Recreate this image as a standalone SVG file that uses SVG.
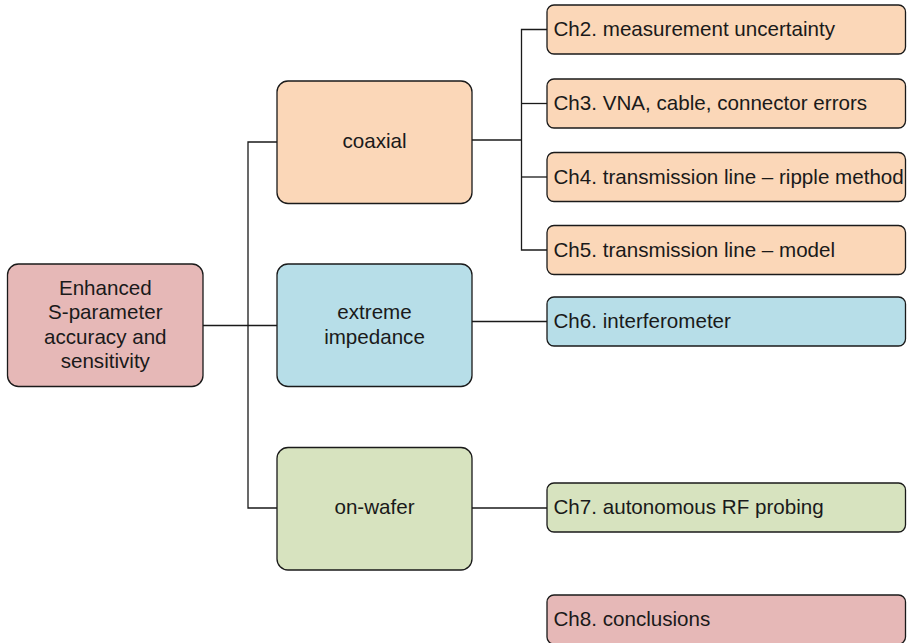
<svg xmlns="http://www.w3.org/2000/svg" width="907" height="643" viewBox="0 0 907 643">
  <style>
    .box { stroke: #1a1a1a; stroke-width: 1.3; }
    .root { fill: #E6B8B7; }
    .coax { fill: #FBD7B8; }
    .ext { fill: #B7DEE8; }
    .wafer { fill: #D7E3BF; }
    .end { fill: #E6B8B7; }
    .lbl { font-family: "Liberation Sans", Arial, sans-serif; font-size: 20.6px; fill: #1a1a1a; }
    .mid { text-anchor: middle; }
    .wire { fill: none; stroke: #1a1a1a; stroke-width: 1.3; }
  </style>

  <!-- connectors -->
  <g id="connectors">
    <path class="wire" d="M203,325.5 H277"/>
    <path class="wire" d="M277,142 H248 V508 H277"/>
    <path class="wire" d="M472,140 H521.5"/>
    <path class="wire" d="M547,29.5 H521.5 V250 H547"/>
    <path class="wire" d="M521.5,103.5 H547"/>
    <path class="wire" d="M521.5,177 H547"/>
    <path class="wire" d="M472,321.5 H547"/>
    <path class="wire" d="M472,508 H547"/>
  </g>

  <!-- root topic -->
  <g id="root">
    <rect class="box root" x="7.5" y="264" width="195.5" height="122.5" rx="11"/>
    <text class="lbl mid" x="105.3" y="294.5">Enhanced</text>
    <text class="lbl mid" x="105.3" y="319">S-parameter</text>
    <text class="lbl mid" x="105.3" y="343.5">accuracy and</text>
    <text class="lbl mid" x="105.3" y="368">sensitivity</text>
  </g>

  <!-- categories -->
  <g id="coaxial">
    <rect class="box coax" x="277" y="81" width="195" height="122.5" rx="11"/>
    <text class="lbl mid" x="374.5" y="148">coaxial</text>
  </g>
  <g id="extreme-impedance">
    <rect class="box ext" x="277" y="264" width="195" height="122.5" rx="11"/>
    <text class="lbl mid" x="374.5" y="319">extreme</text>
    <text class="lbl mid" x="374.5" y="343.5">impedance</text>
  </g>
  <g id="on-wafer">
    <rect class="box wafer" x="277" y="447.5" width="195" height="122.5" rx="11"/>
    <text class="lbl mid" x="374.5" y="514">on-wafer</text>
  </g>

  <!-- chapters -->
  <g id="ch2">
    <rect class="box coax" x="547" y="5" width="358.5" height="49" rx="7"/>
    <text class="lbl" x="553.5" y="36">Ch2. measurement uncertainty</text>
  </g>
  <g id="ch3">
    <rect class="box coax" x="547" y="79" width="358.5" height="49" rx="7"/>
    <text class="lbl" x="553.5" y="110">Ch3. VNA, cable, connector errors</text>
  </g>
  <g id="ch4">
    <rect class="box coax" x="547" y="152.5" width="358.5" height="49" rx="7"/>
    <text class="lbl" x="553.5" y="183.5">Ch4. transmission line – ripple method</text>
  </g>
  <g id="ch5">
    <rect class="box coax" x="547" y="225.5" width="358.5" height="49" rx="7"/>
    <text class="lbl" x="553.5" y="256.5">Ch5. transmission line – model</text>
  </g>
  <g id="ch6">
    <rect class="box ext" x="547" y="297" width="358.5" height="49" rx="7"/>
    <text class="lbl" x="553.5" y="328">Ch6. interferometer</text>
  </g>
  <g id="ch7">
    <rect class="box wafer" x="547" y="483" width="358.5" height="49" rx="7"/>
    <text class="lbl" x="553.5" y="514">Ch7. autonomous RF probing</text>
  </g>
  <g id="ch8">
    <rect class="box end" x="547" y="595" width="358.5" height="49" rx="7"/>
    <text class="lbl" x="553.5" y="626">Ch8. conclusions</text>
  </g>
</svg>
